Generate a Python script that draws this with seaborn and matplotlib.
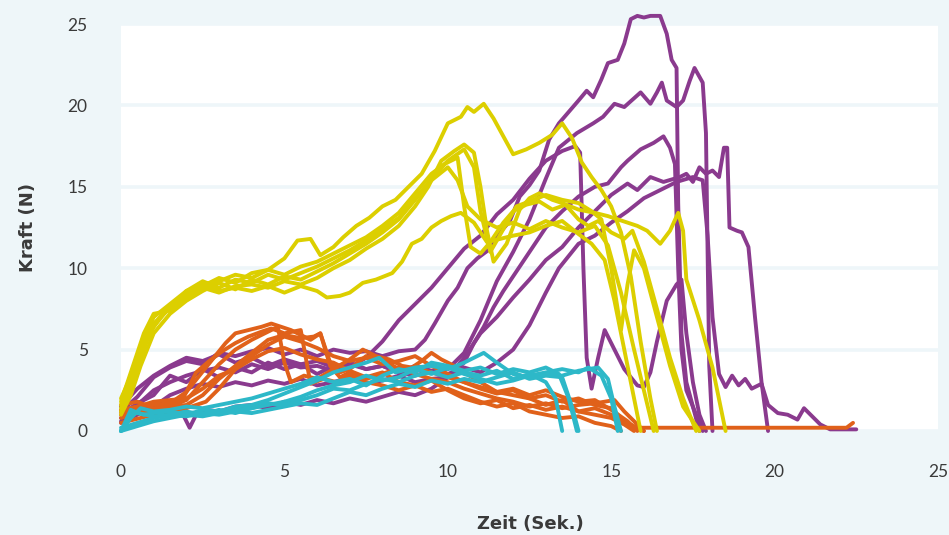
import pandas as pd
import numpy as np
import matplotlib
matplotlib.use('Agg')
import matplotlib.pyplot as plt
import seaborn as sns

# Farben
hintergrund = '#eef6f9'
farben = {'lila': '#8a3a8e', 'orange': '#e0611a', 'gelb': '#dccf00', 'cyan': '#2db8c8'}

# --- lila Kurven ---
lila_t1 = [0, 0.5, 1.0, 1.5, 2.0, 2.5, 3.0, 3.5, 4.0, 4.5, 5.0, 5.5, 6.0, 6.5, 7.0, 7.5, 8.0, 8.5, 9.0, 9.3, 9.6, 10.0, 10.3, 10.6, 10.9, 11.3, 11.6, 11.9, 12.2, 12.5, 12.8, 13.1, 13.4, 13.7, 14.0, 14.25, 14.45, 14.7, 14.9, 15.2, 15.4, 15.6, 15.8, 16.0, 16.2, 16.5, 16.7, 16.85, 17.0, 17.05, 17.15, 17.3, 17.5, 17.7]
lila_f1 = [1.2, 2.1, 3.3, 3.9, 4.3, 4.1, 4.8, 4.6, 4.9, 5.1, 4.7, 5.0, 4.6, 5.0, 4.8, 4.9, 4.6, 4.9, 5.0, 5.6, 6.6, 8.0, 8.8, 10.0, 10.6, 11.2, 12.2, 12.9, 14.4, 15.1, 16.0, 17.9, 18.9, 19.6, 20.3, 20.9, 20.5, 21.6, 22.6, 22.8, 23.8, 25.3, 25.5, 25.4, 25.5, 25.5, 24.4, 22.8, 22.3, 14.0, 6.0, 3.0, 1.5, 0]

lila_t2 = [0, 0.5, 1.0, 1.5, 2.0, 2.5, 3.0, 3.5, 4.0, 4.5, 5.0, 5.5, 6.0, 6.5, 7.0, 7.5, 8.0, 8.5, 9.0, 9.5, 10.0, 10.5, 11.0, 11.5, 12.0, 12.5, 13.0, 13.4, 13.95, 14.45, 14.75, 15.1, 15.4, 15.9, 16.2, 16.4, 16.55, 16.7, 17.0, 17.2, 17.4, 17.55, 17.8, 17.9, 17.95, 18.0, 18.1]
lila_f2 = [0.8, 1.6, 2.5, 3.0, 3.4, 3.7, 3.9, 3.6, 4.1, 3.8, 4.2, 3.9, 4.0, 3.7, 4.1, 3.8, 4.0, 3.6, 4.0, 3.7, 3.8, 4.8, 6.8, 9.2, 11.0, 13.0, 15.5, 17.4, 18.3, 18.9, 19.3, 20.1, 19.9, 20.8, 20.1, 20.8, 21.4, 20.3, 19.9, 20.3, 21.5, 22.3, 21.4, 18.3, 11.0, 4.0, 0]

lila_t3 = [0, 0.5, 1, 1.5, 2, 2.5, 3, 3.5, 4, 4.5, 5, 5.5, 6, 6.5, 7, 7.5, 8, 8.5, 9, 9.5, 10, 10.5, 10.8, 11.1, 11.4, 11.7, 12, 12.5, 13, 13.5, 14, 14.5, 14.9, 15.3, 15.5, 15.9, 16.3, 16.6, 16.8, 16.95, 17.05, 17.15, 17.3, 17.6, 17.8]
lila_f3 = [0.5, 1.0, 1.5, 2.2, 2.6, 2.9, 2.7, 3.0, 2.8, 3.1, 2.9, 3.2, 2.8, 3.0, 3.3, 2.9, 3.1, 3.4, 3.0, 3.2, 3.3, 4.2, 5.4, 6.4, 7.6, 8.6, 9.5, 11.0, 12.5, 13.5, 14.4, 15.0, 15.2, 16.2, 16.6, 17.3, 17.7, 18.1, 17.4, 16.4, 10.0, 5.0, 2.5, 1.0, 0]

lila_t4 = [0, 0.5, 1, 1.5, 1.9, 2.1, 2.3, 2.6, 3, 3.5, 4, 4.5, 5, 5.5, 6, 6.5, 7, 7.5, 8, 8.5, 9, 9.5, 10, 10.5, 11, 11.5, 12, 12.5, 13, 13.5, 14, 14.5, 15, 15.5, 15.8, 16.2, 16.6, 17.1, 17.3, 17.5, 17.7, 17.9, 18.1, 18.3, 18.45, 18.55, 18.62, 18.85, 19.0, 19.2, 19.4, 19.6, 19.8]
lila_f4 = [0.6, 1.2, 1.5, 1.3, 1.0, 0.2, 1.0, 1.3, 1.2, 1.5, 1.6, 1.4, 1.8, 1.6, 1.9, 1.7, 2.0, 1.8, 2.1, 2.4, 2.2, 2.6, 3.3, 4.5, 6.0, 7.0, 8.2, 9.3, 10.5, 11.3, 12.5, 13.5, 14.5, 15.2, 14.8, 15.6, 15.3, 15.6, 15.8, 15.3, 16.2, 15.8, 16.0, 15.6, 17.4, 17.4, 12.5, 12.3, 12.2, 11.3, 7.0, 3.0, 0]

lila_t5 = [0, 0.5, 1, 1.5, 2, 2.5, 3, 3.5, 4, 4.5, 5, 5.5, 6, 6.5, 7, 7.5, 8, 8.5, 9, 9.5, 10, 10.5, 11, 11.5, 12, 12.5, 13, 13.5, 13.9, 14.05, 14.15, 14.25, 14.4, 14.6, 14.8, 15.1, 15.4, 15.8, 16.0, 16.2, 16.4, 16.7, 17.0, 17.15, 17.3, 17.5, 17.7, 17.9]
lila_f5 = [1.0, 1.7, 2.2, 3.4, 3.0, 3.8, 3.3, 3.9, 3.6, 4.2, 3.8, 4.1, 3.5, 4.0, 3.9, 4.5, 5.5, 6.8, 7.8, 8.8, 10.0, 11.2, 12.0, 13.3, 14.2, 15.5, 16.6, 17.2, 17.5, 17.1, 10.0, 4.5, 2.6, 4.5, 6.2, 5.0, 3.8, 2.8, 2.7, 3.6, 5.5, 8.0, 9.0, 9.3, 6.0, 3.0, 1.0, 0]

lila_t6 = [0, 0.5, 1, 1.5, 2, 2.5, 3, 3.5, 4, 4.5, 5, 5.5, 6, 6.5, 7, 7.5, 8, 8.5, 9, 9.5, 10, 10.5, 11, 11.5, 12, 12.5, 13, 13.4, 14, 14.5, 15, 15.5, 16, 16.5, 17, 17.5, 17.8, 17.95, 18.1, 18.3, 18.5, 18.7, 18.9, 19.1, 19.3, 19.6, 19.8, 20.1, 20.4, 20.7, 20.9, 21.1, 21.4, 21.7, 22.5]
lila_f6 = [1.5, 2.6, 3.4, 4.0, 4.5, 4.3, 4.7, 4.2, 4.5, 4.0, 4.4, 4.1, 4.3, 3.9, 4.2, 3.8, 4.0, 3.6, 3.4, 3.7, 3.5, 3.9, 3.6, 4.2, 5.0, 6.5, 8.5, 10.0, 11.5, 12.0, 12.8, 13.5, 14.3, 14.8, 15.3, 15.6, 15.4, 12.0, 7.0, 3.5, 2.7, 3.4, 2.8, 3.2, 2.6, 2.9, 1.6, 1.1, 1.0, 0.7, 1.4, 1.0, 0.4, 0.1, 0.1]

# --- orange Kurven ---
orange_t1 = [0, 0.5, 1, 1.5, 2.0, 2.4, 2.8, 3.2, 3.5, 3.9, 4.3, 4.6, 4.9, 5.2, 5.5, 5.8, 6.1, 6.4, 6.7, 7.0, 7.5, 8, 8.5, 9, 9.5, 10, 10.5, 11, 11.5, 12, 12.5, 13, 13.5, 14, 14.5, 15.1, 15.4, 15.7, 16.0]
orange_f1 = [1.3, 1.5, 1.6, 1.7, 2.4, 3.4, 4.4, 5.4, 6.0, 6.2, 6.4, 6.6, 6.4, 6.2, 5.9, 5.6, 6.0, 4.0, 3.3, 3.6, 3.2, 3.5, 3.9, 3.5, 3.2, 3.0, 2.6, 2.3, 2.0, 1.8, 1.5, 1.7, 1.4, 1.6, 1.7, 1.9, 1.2, 0.6, 0]

orange_t2 = [0, 0.5, 1, 1.5, 2, 2.5, 3, 3.5, 4, 4.5, 4.8, 5.0, 5.2, 5.6, 6, 6.5, 7, 7.4, 7.8, 8.2, 8.6, 8.9, 9.2, 9.5, 9.8, 10.2, 10.5, 11, 11.5, 12, 12.5, 13, 13.5, 14, 14.5, 15, 15.4, 15.7]
orange_f2 = [1.0, 1.3, 1.2, 1.5, 1.9, 3.0, 4.1, 5.0, 5.6, 6.1, 6.4, 4.2, 3.0, 3.4, 3.2, 3.8, 4.4, 5.0, 4.6, 4.4, 4.0, 3.9, 4.3, 4.8, 4.4, 4.0, 3.6, 3.0, 2.4, 2.2, 2.0, 1.6, 1.9, 1.2, 1.0, 0.8, 0.4, 0]

orange_t3 = [0, 0.5, 1, 1.5, 1.9, 2.3, 2.7, 3.1, 3.5, 3.9, 4.3, 4.6, 5.0, 5.5, 5.8, 6.2, 6.6, 7, 7.5, 8, 8.5, 9, 9.5, 10, 10.5, 11, 11.5, 12, 12.5, 13, 13.5, 14, 14.5, 15, 15.3]
orange_f3 = [1.6, 1.8, 1.4, 1.6, 2.0, 3.6, 4.3, 4.9, 5.4, 5.8, 6.1, 6.3, 6.0, 6.2, 2.9, 3.2, 3.0, 3.4, 3.0, 2.8, 2.5, 2.8, 2.4, 2.6, 2.2, 1.8, 1.5, 1.7, 1.2, 1.0, 0.8, 0.9, 0.5, 0.3, 0]

orange_t4 = [0, 0.5, 1, 1.5, 2, 2.5, 3, 3.5, 4, 4.5, 5, 5.5, 5.9, 6.1, 6.4, 6.7, 7, 7.5, 8, 8.5, 9, 9.5, 10, 10.5, 11, 11.5, 12, 12.5, 13, 13.5, 14, 14.5, 15, 15.3, 15.6, 22.2, 22.4]
orange_f4 = [0.8, 1.1, 1.3, 1.5, 1.6, 2.2, 3.2, 4.0, 4.8, 5.6, 5.9, 5.7, 5.8, 6.0, 4.2, 3.6, 3.8, 4.6, 4.4, 3.8, 3.9, 3.6, 3.3, 3.0, 2.6, 2.3, 2.5, 2.0, 2.2, 1.8, 2.0, 1.6, 1.4, 0.8, 0.2, 0.2, 0.5]

orange_t5 = [0, 1, 2, 2.5, 3, 3.5, 4, 4.5, 5, 5.5, 6, 6.5, 7, 7.5, 8, 8.5, 9, 9.5, 10, 10.5, 11, 11.5, 12, 12.5, 13, 13.5, 14, 14.5, 15, 15.5, 16]
orange_f5 = [1.2, 1.8, 2.0, 2.6, 3.4, 3.8, 4.4, 4.9, 5.1, 4.7, 4.4, 4.2, 3.7, 3.3, 3.6, 3.0, 2.8, 3.1, 2.5, 2.0, 1.7, 1.9, 1.4, 1.6, 1.3, 1.5, 1.2, 1.4, 1.0, 0.5, 0]

orange_t6 = [0, 1, 1.5, 2, 2.6, 3, 3.5, 4, 4.5, 5, 5.5, 6, 6.5, 7, 7.5, 8, 8.5, 9, 9.5, 10, 10.5, 11, 11.5, 12, 12.5, 13, 13.5, 14, 14.5, 15, 15.5, 15.8]
orange_f6 = [0.5, 1.0, 1.2, 1.4, 1.8, 2.6, 3.8, 4.6, 5.3, 5.8, 5.5, 5.1, 4.6, 4.3, 4.5, 4.1, 4.3, 4.6, 4.0, 3.5, 3.0, 2.7, 2.4, 2.6, 2.2, 2.5, 2.1, 1.8, 1.9, 1.3, 0.6, 0]

# --- gelbe Kurven ---
gelb_t1 = [0, 0.3, 0.6, 1.0, 1.5, 2.0, 2.5, 3.0, 3.5, 4.0, 4.5, 5.0, 5.4, 5.8, 6.1, 6.5, 6.8, 7.2, 7.6, 8.0, 8.4, 8.8, 9.2, 9.6, 10.0, 10.4, 10.6, 10.8, 11.1, 11.4, 11.7, 12.0, 12.4, 12.8, 13.2, 13.5, 13.8, 14.1, 14.4, 14.7, 15.0, 15.3, 15.6, 15.9, 16.2, 16.4]
gelb_f1 = [1.6, 3.0, 5.2, 7.0, 7.8, 8.6, 9.0, 9.2, 9.6, 9.4, 9.9, 10.6, 11.7, 11.8, 10.8, 11.3, 11.9, 12.6, 13.1, 13.8, 14.2, 15.0, 15.8, 17.2, 18.9, 19.3, 19.9, 19.6, 20.1, 19.2, 18.1, 17.0, 17.3, 17.7, 18.2, 18.9, 18.0, 16.5, 15.6, 14.8, 13.8, 12.2, 9.5, 5.5, 2.0, 0]

gelb_t2 = [0, 0.3, 0.6, 1.0, 1.5, 2.0, 2.5, 3.0, 3.5, 4.0, 4.5, 5.0, 5.5, 6.0, 6.5, 7.0, 7.5, 8.0, 8.5, 9.0, 9.4, 9.8, 10.2, 10.5, 10.8, 11.0, 11.2, 11.4, 11.8, 12.2, 12.5, 12.8, 13.2, 13.5, 14.0, 14.5, 14.9, 15.2, 15.5, 15.8, 16.1, 16.5, 16.8, 17.05, 17.2, 17.3, 17.7, 18.1, 18.5]
gelb_f2 = [1.2, 2.4, 4.5, 6.6, 7.6, 8.2, 8.8, 8.5, 8.9, 9.0, 8.8, 9.2, 9.0, 9.4, 10.0, 10.5, 11.2, 11.8, 12.6, 13.8, 15.0, 16.6, 17.2, 17.6, 17.1, 15.0, 12.3, 10.4, 11.5, 13.6, 14.3, 14.6, 14.2, 14.0, 13.6, 13.4, 13.2, 13.0, 12.8, 12.6, 12.3, 11.5, 12.3, 13.4, 12.3, 9.3, 6.8, 3.9, 0]

gelb_t3 = [0, 0.3, 0.7, 1.0, 1.5, 2.0, 2.5, 3.0, 3.5, 4.0, 4.5, 5.0, 5.5, 6.0, 6.5, 7.0, 7.5, 8.0, 8.5, 9.0, 9.5, 9.9, 10.3, 10.5, 10.7, 11.0, 11.3, 11.7, 12.0, 12.4, 12.8, 13.2, 13.6, 14.0, 14.3, 14.6, 15.0, 15.4, 15.65, 16.0, 16.4, 16.8, 17.2, 17.6]
gelb_f3 = [1.8, 3.6, 6.0, 7.2, 7.4, 8.4, 8.9, 9.4, 9.1, 9.7, 9.9, 9.6, 10.1, 10.4, 10.9, 11.4, 11.9, 12.6, 13.4, 14.6, 15.8, 16.4, 16.8, 13.8, 11.3, 10.9, 11.6, 12.8, 13.5, 13.9, 14.1, 13.6, 13.9, 13.0, 12.6, 12.9, 12.2, 11.8, 12.3, 10.4, 7.5, 4.5, 2.0, 0]

gelb_t4 = [0, 0.3, 0.6, 1.0, 1.4, 1.8, 2.2, 2.6, 3.0, 3.5, 4.0, 4.5, 5.0, 5.5, 6.0, 6.3, 6.7, 7.0, 7.4, 7.8, 8.3, 8.6, 8.9, 9.2, 9.5, 9.8, 10.1, 10.4, 10.8, 11.2, 11.6, 12.0, 12.5, 13.0, 13.5, 14.0, 14.4, 14.8, 15.1, 15.4, 15.7, 15.9]
gelb_f4 = [1.4, 2.8, 4.8, 6.4, 7.4, 7.8, 8.3, 8.9, 8.6, 8.8, 8.6, 8.9, 8.5, 8.9, 8.6, 8.2, 8.3, 8.5, 9.1, 9.3, 9.7, 10.4, 11.5, 11.8, 12.5, 12.9, 13.2, 13.4, 12.8, 11.6, 11.8, 12.0, 12.2, 12.6, 12.9, 12.1, 11.5, 10.5, 8.0, 5.0, 2.0, 0]

gelb_t5 = [0, 0.3, 0.6, 1.0, 1.5, 2.0, 2.5, 3.0, 3.5, 4.0, 4.5, 5.0, 5.5, 6.0, 6.5, 7.0, 7.5, 8.0, 8.5, 9.0, 9.5, 10.0, 10.5, 10.8, 11.0, 11.3, 11.7, 12.1, 12.5, 13.0, 13.5, 14.0, 14.4, 14.7, 15.0, 15.3, 15.5, 15.7, 16.0, 16.4, 16.8, 17.2, 17.7]
gelb_f5 = [1.0, 2.2, 4.0, 6.0, 7.2, 8.0, 8.6, 9.1, 8.7, 9.3, 9.0, 9.5, 9.3, 9.8, 10.3, 10.9, 11.5, 12.2, 13.0, 14.2, 15.5, 16.6, 17.3, 16.2, 13.5, 11.0, 12.4, 13.8, 14.1, 14.5, 14.2, 14.0, 13.5, 13.0, 10.0, 6.2, 9.0, 11.1, 10.0, 7.0, 4.0, 1.5, 0]

gelb_t6 = [0, 0.4, 0.8, 1.2, 1.6, 2.0, 2.5, 3.0, 3.5, 4.0, 4.5, 5.0, 5.5, 6.0, 6.5, 7.0, 7.5, 8.0, 8.5, 9.0, 9.5, 10.0, 10.3, 10.6, 11.0, 11.5, 12.0, 12.5, 13.0, 13.5, 14.0, 14.5, 14.9, 15.3, 15.7, 16.0, 16.3]
gelb_f6 = [2.0, 3.8, 5.8, 7.0, 7.7, 8.6, 9.2, 8.8, 9.3, 9.1, 9.6, 9.3, 9.7, 10.1, 10.6, 11.1, 11.7, 12.4, 13.1, 14.3, 15.4, 16.2, 15.4, 13.8, 13.0, 12.5, 12.8, 12.4, 12.9, 12.5, 12.2, 12.6, 11.4, 8.5, 5.0, 2.5, 0]

# --- cyan Kurven ---
cyan_t1 = [0, 0.2, 0.4, 0.7, 1, 1.5, 2, 2.5, 3, 3.5, 4, 4.5, 5, 5.5, 6, 6.5, 7, 7.5, 7.9, 8.4, 9, 9.5, 10, 10.5, 10.8, 11.1, 11.5, 12, 12.5, 13, 13.5, 14, 14.6, 14.9, 15.1, 15.3]
cyan_f1 = [0, 0.6, 1.2, 1.0, 1.1, 1.2, 1.0, 1.3, 1.2, 1.5, 1.6, 1.9, 2.3, 2.7, 3.1, 3.6, 3.9, 4.2, 4.5, 3.6, 3.9, 4.0, 3.8, 4.2, 4.5, 4.8, 4.2, 3.5, 3.3, 3.5, 3.4, 3.7, 3.9, 3.2, 1.5, 0]

cyan_t2 = [0, 0.3, 0.5, 1, 1.5, 2, 2.5, 3, 3.5, 4, 4.5, 5, 5.5, 6, 6.5, 7, 7.5, 8, 8.5, 9, 9.5, 10, 10.5, 11, 11.5, 12, 12.5, 13, 13.3, 13.5]
cyan_f2 = [0, 1.3, 1.1, 0.9, 1.0, 1.2, 1.0, 1.3, 1.1, 1.4, 1.7, 1.6, 1.9, 2.2, 2.6, 2.5, 2.9, 3.2, 3.0, 3.4, 3.6, 3.3, 3.6, 3.4, 3.7, 3.2, 3.5, 3.0, 2.0, 0]

cyan_t3 = [0, 0.5, 1, 1.5, 2, 2.5, 3, 3.5, 4, 4.5, 5, 5.5, 6, 6.5, 7, 7.5, 8, 8.5, 9, 9.5, 10, 10.5, 11, 11.5, 12, 12.5, 13, 13.5, 13.8, 14.0]
cyan_f3 = [0.2, 0.5, 0.8, 1.0, 0.9, 1.1, 1.0, 1.2, 1.1, 1.3, 1.5, 1.7, 1.6, 2.0, 2.4, 2.2, 2.6, 2.9, 2.7, 3.1, 2.9, 3.2, 3.0, 3.3, 3.6, 3.2, 3.4, 3.3, 1.5, 0]

cyan_t4 = [0, 0.5, 1, 1.5, 2, 2.5, 3, 3.5, 4, 4.5, 5, 5.5, 6, 6.5, 7, 7.5, 8, 8.5, 9, 9.5, 10, 10.5, 11, 11.5, 12, 12.5, 13, 13.5, 14, 14.3, 14.7, 15.0, 15.2]
cyan_f4 = [0, 0.3, 0.6, 0.8, 1.0, 0.9, 1.1, 1.3, 1.4, 1.6, 1.8, 2.1, 2.5, 2.8, 3.0, 3.4, 3.1, 3.3, 3.8, 3.5, 3.9, 3.5, 3.2, 2.9, 3.1, 3.4, 3.6, 3.8, 3.6, 3.9, 3.4, 2.0, 0]

cyan_t5 = [0, 0.3, 0.6, 1, 1.5, 2, 2.5, 3, 3.5, 4, 4.5, 5, 5.5, 6, 6.5, 7, 7.5, 8, 8.5, 9, 9.5, 10, 10.5, 11, 11.5, 12, 12.5, 13, 13.4, 13.7, 13.95]
cyan_f5 = [0, 0.8, 1.4, 1.2, 1.3, 1.5, 1.4, 1.6, 1.8, 2.0, 2.3, 2.6, 2.9, 3.3, 3.0, 3.2, 2.8, 3.4, 3.8, 3.6, 4.2, 4.0, 3.7, 3.9, 3.5, 3.8, 3.6, 3.9, 3.5, 2.0, 0]

kurven = [
    ('lila', lila_t1, lila_f1), ('lila', lila_t2, lila_f2), ('lila', lila_t3, lila_f3),
    ('lila', lila_t4, lila_f4), ('lila', lila_t5, lila_f5), ('lila', lila_t6, lila_f6),
    ('orange', orange_t1, orange_f1), ('orange', orange_t2, orange_f2), ('orange', orange_t3, orange_f3),
    ('orange', orange_t4, orange_f4), ('orange', orange_t5, orange_f5), ('orange', orange_t6, orange_f6),
    ('gelb', gelb_t1, gelb_f1), ('gelb', gelb_t2, gelb_f2), ('gelb', gelb_t3, gelb_f3),
    ('gelb', gelb_t4, gelb_f4), ('gelb', gelb_t5, gelb_f5), ('gelb', gelb_t6, gelb_f6),
    ('cyan', cyan_t1, cyan_f1), ('cyan', cyan_t2, cyan_f2), ('cyan', cyan_t3, cyan_f3),
    ('cyan', cyan_t4, cyan_f4), ('cyan', cyan_t5, cyan_f5),
]

zeilen = []
for i, (gruppe, t, f) in enumerate(kurven):
    for tt, ff in zip(t, f):
        zeilen.append({'kurve': i, 'gruppe': gruppe, 'zeit': tt, 'kraft': ff})
df = pd.DataFrame(zeilen)

sns.set_theme(style='white')
plt.rcParams['font.family'] = ['Lato', 'DejaVu Sans']
textfarbe = '#3a3a3a'

fig = plt.figure(figsize=(9.49, 5.35), dpi=100, facecolor=hintergrund)
ax = fig.add_axes([0.1275, 0.1944, 0.8609, 0.7607])
ax.set_facecolor('white')

for i, (gruppe, t, f) in enumerate(kurven):
    sns.lineplot(data=df[df['kurve'] == i], x='zeit', y='kraft', sort=False,
                 estimator=None, color=farben[gruppe], linewidth=2.8, ax=ax,
                 legend=False, clip_on=False)

ax.set_xlim(0, 25)
ax.set_ylim(0, 25)
ax.set_xticks([0, 5, 10, 15, 20, 25])
ax.set_yticks([0, 5, 10, 15, 20, 25])
ax.yaxis.grid(True, color=hintergrund, linewidth=2.6, zorder=0)
ax.set_axisbelow(True)
for s in ax.spines.values():
    s.set_visible(False)
ax.tick_params(axis='x', length=0, pad=24, labelsize=12.5, labelcolor=textfarbe)
ax.tick_params(axis='y', length=0, pad=24, labelsize=12.5, labelcolor=textfarbe)

ax.set_xlabel('')
ax.set_ylabel('')
fig.text(530 / 949, (535 - 524) / 535, 'Zeit (Sek.)', ha='center', va='center',
         fontsize=13, fontweight='bold', color=textfarbe, family=['DejaVu Sans'])
fig.text(28 / 949, (535 - 228) / 535, 'Kraft (N)', ha='center', va='center',
         rotation=90, fontsize=13, fontweight='bold', color=textfarbe, family=['DejaVu Sans'])

plt.savefig('out.png', dpi=100, facecolor=hintergrund)
